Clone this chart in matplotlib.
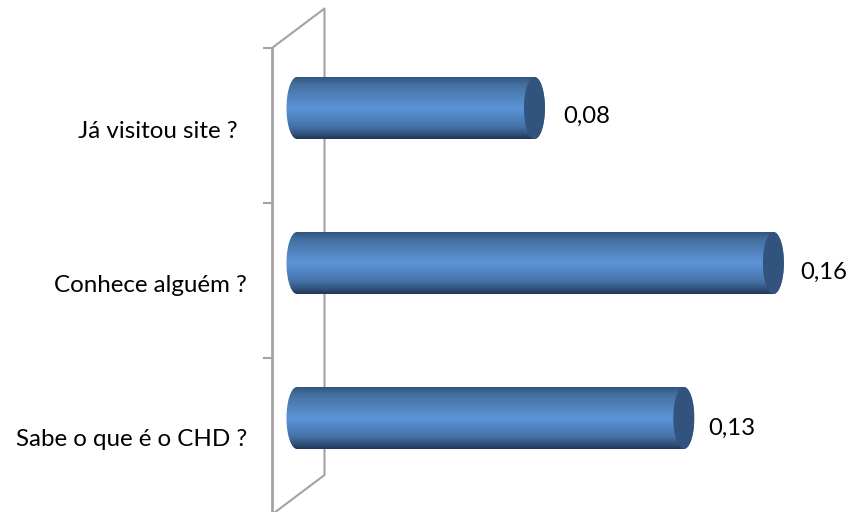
import numpy as np
import matplotlib
matplotlib.use("Agg")
import matplotlib.pyplot as plt
from matplotlib.colors import LinearSegmentedColormap
from matplotlib.path import Path
from matplotlib.patches import Ellipse, PathPatch

categories = ["Sabe o que é o CHD ?", "Conhece alguém ?", "Já visitou site ?"]
values = [0.13, 0.16, 0.08]
value_labels = ["0,13", "0,16", "0,08"]

W, H = 849, 512
X0, X_SCALE = 294, 2987   # pixel of zero, pixels per unit
Y0, Y_SCALE = 418, 155    # pixel of first bar, pixels per category

plt.rcParams['font.family'] = ['Lato', 'DejaVu Sans']

fig = plt.figure(figsize=(W / 100, H / 100), dpi=100)
ax = fig.add_axes([0, 0, 1, 1])
ax.axis("off")


def px(x):
    return (x - X0) / X_SCALE


def py(y):
    return (Y0 - y) / Y_SCALE


xlim = (px(0), px(W))
ylim = (py(H), py(0))

# the 3d wall behind the bars
wall = "#a3a3a3"
ax.plot([px(272), px(272)], [py(48), py(H + 5)], color=wall, lw=2, zorder=1)
ax.plot([px(272), px(324.5), px(324.5), px(274)],
        [py(48), py(8.5), py(475), py(H + 1)], color=wall, lw=1.5, zorder=1)
for i in range(3):
    tick_y = py(48) - i
    ax.plot([px(264), px(272)], [tick_y, tick_y], color=wall, lw=1.5, zorder=1)

shade = LinearSegmentedColormap.from_list("cyl", [
    (0.0, "#33557f"), (0.12, "#44709f"), (0.5, "#5c95da"),
    (0.8, "#4572a8"), (0.93, "#2f4f78"), (1.0, "#203757"),
])
grad = np.linspace(0, 1, 128).reshape(-1, 1)

bar_h = 62 / Y_SCALE
rx = 10.5 / X_SCALE
t = np.linspace(0, np.pi, 60)

# offsets of the value labels from the bar end, in pixels
label_dx = [26, 28, 30]
label_dy = [10, 9, 8]

for i, (v, lab) in enumerate(zip(values, value_labels)):
    x1 = v + 1.5 / X_SCALE
    x0 = 3 / X_SCALE
    ry = bar_h / 2
    # body outline: round on the left, round on the right
    xs = np.concatenate([x0 - rx * np.sin(t), x1 + rx * np.sin(t)])
    ys = np.concatenate([i + ry * np.cos(t), i - ry * np.cos(t)])
    outline = Path(np.column_stack([xs, ys]))
    im = ax.imshow(grad, cmap=shade, aspect="auto", zorder=3,
                   extent=(x0 - rx, x1 + rx, i - ry, i + ry), origin="upper")
    im.set_clip_path(PathPatch(outline, transform=ax.transData))
    ax.add_patch(Ellipse((x1, i), 2 * rx, bar_h, facecolor="#31537e",
                         edgecolor="none", zorder=4))
    ax.text(v + label_dx[i] / X_SCALE, i - label_dy[i] / Y_SCALE, lab, fontsize=17.2,
            color="#000000", ha="left", va="center", zorder=5)

label_right = [247, 247, 238]
label_pad = [22, 22, 24]
for i, name in enumerate(categories):
    ax.text(px(label_right[i]), i - label_pad[i] / Y_SCALE, name, fontsize=17.4,
            color="#000000", ha="right", va="center")

ax.set_xlim(xlim)
ax.set_ylim(ylim)

fig.savefig("out.png", dpi=100, facecolor="white")
